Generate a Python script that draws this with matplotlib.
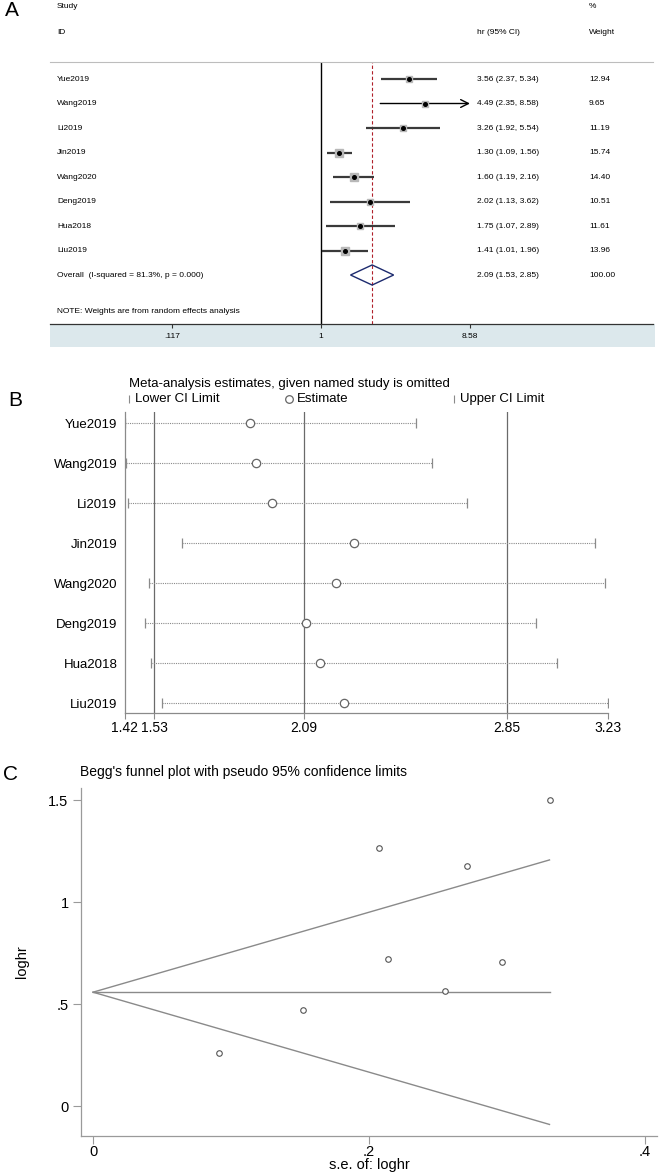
import matplotlib
matplotlib.use('Agg')
import matplotlib.pyplot as plt
import numpy as np
from matplotlib.transforms import blended_transform_factory
from matplotlib.patches import Rectangle, Polygon
from matplotlib.lines import Line2D

plt.rcParams['font.family'] = ['Liberation Sans', 'DejaVu Sans']

# ---------------- data ----------------
studies = ['Yue2019', 'Wang2019', 'Li2019', 'Jin2019', 'Wang2020', 'Deng2019', 'Hua2018', 'Liu2019']
hr = [3.56, 4.49, 3.26, 1.30, 1.60, 2.02, 1.75, 1.41]
hr_lo = [2.37, 2.35, 1.92, 1.09, 1.19, 1.13, 1.07, 1.01]
hr_hi = [5.34, 8.58, 5.54, 1.56, 2.16, 3.62, 2.89, 1.96]
weights = [12.94, 9.65, 11.19, 15.74, 14.40, 10.51, 11.61, 13.96]
overall_hr = [2.09, 1.53, 2.85]  # estimate, lower, upper
overall_weight = 100.00
a_ticks = [0.117, 1, 8.58]
a_ticklabels = ['.117', '1', '8.58']

omit_est = [1.89, 1.91, 1.97, 2.28, 2.21, 2.10, 2.15, 2.24]
omit_lo = [1.42, 1.425, 1.433, 1.634, 1.511, 1.496, 1.516, 1.557]
omit_hi = [2.51, 2.57, 2.70, 3.18, 3.22, 2.96, 3.04, 3.23]
b_ticks = [1.42, 1.53, 2.09, 2.85, 3.23]
b_vlines = [1.53, 2.09, 2.85]

funnel_se = [0.2074, 0.3308, 0.2708, 0.0916, 0.1522, 0.2965, 0.2554, 0.2138]
funnel_loghr = [1.266, 1.500, 1.178, 0.262, 0.470, 0.705, 0.564, 0.720]
funnel_center = 0.558
funnel_se_range = [0.0, 0.3308]
c_yticks = [0, 0.5, 1, 1.5]
c_yticklabels = ['0', '.5', '1', '1.5']
c_xticks = [0, 0.2, 0.4]
c_xticklabels = ['0', '.2', '.4']

# ---------------- figure ----------------
W, H = 660, 1176
fig = plt.figure(figsize=(W / 100, H / 100), dpi=100)
fig.patch.set_facecolor('white')


def box(x0, y0, x1, y1):
    return [x0 / W, 1 - y1 / H, (x1 - x0) / W, (y1 - y0) / H]


def fx(px):
    return px / W


def fy(py):
    return 1 - py / H

# band below forest-plot axis (drawn first, behind everything)
fig.patches.append(Rectangle((fx(50), fy(347)), (655 - 50) / W, 23 / H,
                             transform=fig.transFigure, facecolor='#dce8ec',
                             edgecolor='none', zorder=-5))

# ================= Panel A =================
axA = fig.add_axes(box(50, 62, 653, 324))
axA.set_facecolor('none')
axA.set_zorder(2)
axA.set_xscale('log')
axA.set_xlim(0.0200, 120.4)
axA.set_ylim(10.0, -0.694)
n = len(studies)

axA.axvline(1, color='black', lw=1.0, zorder=2)
axA.axvline(overall_hr[0], color='#b0202a', lw=0.8, ls=(0, (3, 2)), zorder=2)

for i in range(n):
    if i == 1:
        axA.annotate('', xy=(hr_hi[i], i), xytext=(hr_lo[i], i),
                     arrowprops=dict(arrowstyle='->', color='black', lw=1.0,
                                     mutation_scale=14, shrinkA=0, shrinkB=0), zorder=3)
    else:
        axA.plot([hr_lo[i], hr_hi[i]], [i, i], color='#3a3a3a', lw=1.6,
                 solid_capstyle='butt', zorder=3)
    axA.plot(hr[i], i, marker='s', ms=1.35 * np.sqrt(weights[i]), color='#b8b8b8',
             mec='#b8b8b8', zorder=4)
    axA.plot(hr[i], i, marker='o', ms=2.6, color='black', zorder=5)

# overall diamond
ov = n
dia = Polygon([[overall_hr[1], ov], [overall_hr[0], ov - 0.41], [overall_hr[2], ov],
               [overall_hr[0], ov + 0.41]], closed=True, fill=False,
              edgecolor='#1c2a6e', lw=1.0, zorder=4)
axA.add_patch(dia)

for s in ['left', 'right']:
    axA.spines[s].set_visible(False)
axA.spines['top'].set_color('#bdbdbd')
axA.spines['top'].set_linewidth(0.8)
axA.spines['bottom'].set_color('#333333')
axA.spines['bottom'].set_linewidth(0.9)
axA.set_yticks([])
axA.set_xticks(a_ticks)
axA.set_xticklabels(a_ticklabels)
axA.xaxis.set_minor_locator(matplotlib.ticker.NullLocator())
axA.tick_params(axis='x', direction='out', length=3, pad=3.5, labelsize=6, color='#333333')

trA = blended_transform_factory(fig.transFigure, axA.transData)
fsA = 6
for i in range(n):
    axA.text(fx(57), i, studies[i], transform=trA, fontsize=fsA, va='center', ha='left')
    axA.text(fx(477), i, '{:.2f} ({:.2f}, {:.2f})'.format(hr[i], hr_lo[i], hr_hi[i]),
             transform=trA, fontsize=fsA, va='center', ha='left')
    axA.text(fx(589), i, '{:.2f}'.format(weights[i]), transform=trA, fontsize=fsA,
             va='center', ha='left')
axA.text(fx(57), ov, 'Overall  (I-squared = 81.3%, p = 0.000)', transform=trA,
         fontsize=fsA, va='center', ha='left')
axA.text(fx(477), ov, '{:.2f} ({:.2f}, {:.2f})'.format(*overall_hr), transform=trA,
         fontsize=fsA, va='center', ha='left')
axA.text(fx(589), ov, '{:.2f}'.format(overall_weight), transform=trA, fontsize=fsA,
         va='center', ha='left')
axA.text(fx(57), 9.51, 'NOTE: Weights are from random effects analysis', transform=trA,
         fontsize=fsA, va='center', ha='left')

fig.text(fx(57), fy(7), 'Study', fontsize=fsA, va='center')
fig.text(fx(57), fy(32), 'ID', fontsize=fsA, va='center')
fig.text(fx(477), fy(32), 'hr (95% CI)', fontsize=fsA, va='center')
fig.text(fx(589), fy(7), '%', fontsize=fsA, va='center')
fig.text(fx(589), fy(32), 'Weight', fontsize=fsA, va='center')
fig.text(fx(5), fy(11), 'A', fontsize=15, va='center', ha='left')

# ================= Panel B =================
axB = fig.add_axes(box(125, 412, 608, 713))
axB.set_xlim(b_ticks[0], b_ticks[-1])
axB.set_ylim(7.25, -0.275)
for v in b_vlines:
    axB.axvline(v, color='#6a6a6a', lw=0.9, zorder=1)
for i in range(n):
    axB.plot([omit_lo[i], omit_hi[i]], [i, i], color='#8a8a8a', lw=0.8,
             ls=(0, (1, 1)), zorder=2)
    axB.plot([omit_lo[i], omit_hi[i]], [i, i], ls='none', marker='|', ms=7,
             mew=0.9, color='#8a8a8a', zorder=3)
    axB.plot(omit_est[i], i, marker='o', ms=6, mfc='white', mec='#666666', mew=0.9,
             zorder=4)
for s in ['top', 'right']:
    axB.spines[s].set_visible(False)
for s in ['left', 'bottom']:
    axB.spines[s].set_color('#8a8a8a')
    axB.spines[s].set_linewidth(0.9)
axB.set_yticks(range(n))
axB.set_yticklabels(studies)
axB.tick_params(axis='y', length=0, pad=5.5, labelsize=9.5)
axB.set_xticks(b_ticks)
axB.set_xticklabels(['{:.2f}'.format(t) for t in b_ticks])
axB.tick_params(axis='x', direction='out', length=4, pad=2, labelsize=10, color='#8a8a8a')

fig.text(fx(129), fy(384), 'Meta-analysis estimates, given named study is omitted',
         fontsize=9.5, va='center', ha='left')
legend_y = fy(399)
fig.add_artist(Line2D([fx(129)], [legend_y], marker='|', ms=6, mew=0.8, color='#8a8a8a',
                      transform=fig.transFigure, ls='none'))
fig.text(fx(135), legend_y, 'Lower CI Limit', fontsize=9.5, va='center', ha='left')
fig.add_artist(Line2D([fx(289)], [legend_y], marker='o', ms=5.5, mfc='white',
                      mec='#666666', mew=0.9, transform=fig.transFigure, ls='none'))
fig.text(fx(297), legend_y, 'Estimate', fontsize=9.5, va='center', ha='left')
fig.add_artist(Line2D([fx(454)], [legend_y], marker='|', ms=6, mew=0.8, color='#8a8a8a',
                      transform=fig.transFigure, ls='none'))
fig.text(fx(460), legend_y, 'Upper CI Limit', fontsize=9.5, va='center', ha='left')
fig.text(fx(8), fy(401), 'B', fontsize=15, va='center', ha='left')

# ================= Panel C =================
axC = fig.add_axes(box(81, 788, 657, 1136))
axC.set_xlim(-0.0087, 0.4087)
axC.set_ylim(-0.147, 1.559)
se_line = np.array(funnel_se_range)
axC.plot(se_line, [funnel_center, funnel_center], color='#8a8a8a', lw=1.0)
axC.plot(se_line, funnel_center + 1.96 * se_line, color='#8a8a8a', lw=1.0)
axC.plot(se_line, funnel_center - 1.96 * se_line, color='#8a8a8a', lw=1.0)
axC.plot(funnel_se, funnel_loghr, ls='none', marker='o', ms=4, mfc='white',
         mec='#555555', mew=0.8)
for s in ['top', 'right']:
    axC.spines[s].set_visible(False)
for s in ['left', 'bottom']:
    axC.spines[s].set_color('#9a9a9a')
    axC.spines[s].set_linewidth(0.9)
axC.set_yticks(c_yticks)
axC.set_yticklabels(c_yticklabels)
axC.set_xticks(c_xticks)
axC.set_xticklabels(c_xticklabels)
axC.tick_params(axis='both', direction='out', length=5.5, labelsize=10.5, color='#9a9a9a')
axC.tick_params(axis='x', pad=1)
axC.set_ylabel('loghr', fontsize=10.5, labelpad=14)
axC.set_xlabel('s.e. of: loghr', fontsize=10.5, labelpad=-1)
fig.text(fx(80), fy(772), "Begg's funnel plot with pseudo 95% confidence limits",
         fontsize=10, va='center', ha='left')
fig.text(fx(3), fy(775), 'C', fontsize=15, va='center', ha='left')

fig.savefig('out.png', dpi=100)
